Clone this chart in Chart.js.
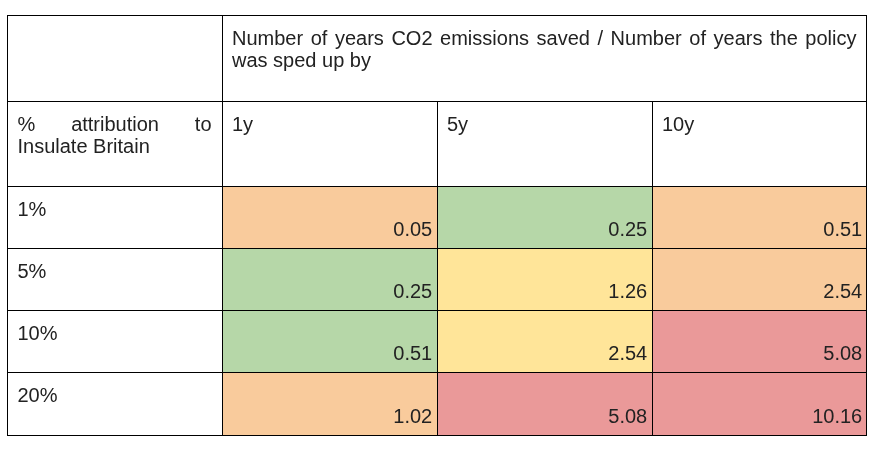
<!DOCTYPE html>
<html>
<head>
<meta charset="utf-8">
<script src="https://cdn.jsdelivr.net/npm/chart.js@4.4.1/dist/chart.umd.min.js"></script>
<style>
  html, body { margin: 0; padding: 0; background: #ffffff; }
  canvas { display: block; }
</style>
</head>
<body>
<canvas id="table" width="885" height="462"></canvas>
<script>
// ---------- data ----------
const headerTitle = 'Number of years CO2 emissions saved / Number of years the policy was sped up by';
const rowHeaderTitle = '% attribution to Insulate Britain';
const speedUpLabels = ['1y', '5y', '10y'];
const attributionLabels = ['1%', '5%', '10%', '20%'];
const saved1y = [0.05, 0.25, 0.51, 1.02];
const saved5y = [0.25, 1.26, 2.54, 5.08];
const saved10y = [0.51, 2.54, 5.08, 10.16];
const valueColumns = [saved1y, saved5y, saved10y];

// ---------- styles / layout ----------
const ORANGE = '#f9cb9c', GREEN = '#b6d7a8', YELLOW = '#ffe599', RED = '#ea9999', WHITE = '#ffffff';
const cellColors = [
  [ORANGE, GREEN, ORANGE],
  [GREEN, YELLOW, ORANGE],
  [GREEN, YELLOW, RED],
  [ORANGE, RED, RED]
];
// relative row heights (2 header rows + 4 data rows; last one also holds the bottom rule)
const rowUnits = [86 / 62, 85 / 62, 1, 1, 1, 64 / 62];
const FONT = '20px "Liberation Sans", Arial, sans-serif';
const TEXT_COLOR = '#222222';

const columnKeys = ['label'].concat(speedUpLabels);
const rowBounds = [0];
rowUnits.forEach(u => rowBounds.push(rowBounds[rowBounds.length - 1] + u));
const nRows = rowUnits.length;
const nCols = columnKeys.length;

function rowFill(r, c) {
  if (r < 2 || c === 0) return WHITE;
  return cellColors[r - 2][c - 1];
}

const datasets = [];
for (let r = 0; r < nRows; r++) {
  datasets.push({
    label: 'row' + r,
    data: columnKeys.map(() => [rowBounds[r], rowBounds[r + 1]]),
    backgroundColor: columnKeys.map((k, c) => rowFill(r, c)),
    borderColor: '#000000',
    borderWidth: (ctx) => {
      const rr = ctx.datasetIndex, cc = ctx.dataIndex;
      return {
        left: (rr === 0 && cc >= 2) ? 0 : 1,
        top: 1,
        right: cc === nCols - 1 ? 1 : 0,
        bottom: rr === nRows - 1 ? 1 : 0
      };
    },
    borderSkipped: false,
    inflateAmount: 0,
    grouped: false,
    barPercentage: 1,
    categoryPercentage: 1
  });
}

function cellBox(chart, r, c) {
  const el = chart.getDatasetMeta(r).data[c];
  const p = el.getProps(['x', 'y', 'base', 'width'], true);
  return {
    left: p.x - p.width / 2,
    right: p.x + p.width / 2,
    top: Math.min(p.y, p.base),
    bottom: Math.max(p.y, p.base)
  };
}

function wrapWords(ctx, text, maxWidth) {
  const words = text.split(' ');
  const lines = [];
  let cur = [];
  words.forEach(w => {
    const trial = cur.concat([w]).join(' ');
    if (cur.length && ctx.measureText(trial).width > maxWidth) {
      lines.push(cur);
      cur = [w];
    } else {
      cur.push(w);
    }
  });
  if (cur.length) lines.push(cur);
  return lines;
}

function drawJustified(ctx, text, x, y, maxWidth, lineHeight) {
  const lines = wrapWords(ctx, text, maxWidth);
  lines.forEach((words, i) => {
    const ly = y + i * lineHeight;
    if (i === lines.length - 1 || words.length === 1) {
      ctx.textAlign = 'left';
      ctx.fillText(words.join(' '), x, ly);
      return;
    }
    const widths = words.map(w => ctx.measureText(w).width);
    const total = widths.reduce((a, b) => a + b, 0);
    const gap = (maxWidth - total) / (words.length - 1);
    let cx = x;
    ctx.textAlign = 'left';
    words.forEach((w, j) => {
      ctx.fillText(w, cx, ly);
      cx += widths[j] + gap;
    });
  });
}

const PAD_L = 10, PAD_R = 10.5, TOP_BASE = 29.7, BOTTOM_BASE = 12, VAL_PAD = 4.8, LINE_H = 22.3;

const cellTextPlugin = {
  id: 'cellText',
  afterDatasetsDraw(chart) {
    const ctx = chart.ctx;
    ctx.save();
    ctx.font = FONT;
    ctx.fillStyle = TEXT_COLOR;
    ctx.textBaseline = 'alphabetic';

    // merged header cell spanning the value columns
    const hL = cellBox(chart, 0, 1), hR = cellBox(chart, 0, nCols - 1);
    drawJustified(ctx, headerTitle, hL.left + PAD_L, hL.top + TOP_BASE,
      hR.right - PAD_R - (hL.left + PAD_L), LINE_H);

    // row header title
    const rh = cellBox(chart, 1, 0);
    drawJustified(ctx, rowHeaderTitle, rh.left + PAD_L + 0.5, rh.top + TOP_BASE,
      rh.right - PAD_R - (rh.left + PAD_L + 0.5), LINE_H);

    // column labels
    speedUpLabels.forEach((lab, i) => {
      const b = cellBox(chart, 1, i + 1);
      ctx.textAlign = 'left';
      ctx.fillText(lab, b.left + PAD_L, b.top + TOP_BASE);
    });

    // row labels and values
    attributionLabels.forEach((lab, j) => {
      const b = cellBox(chart, j + 2, 0);
      ctx.textAlign = 'left';
      ctx.fillText(lab, b.left + PAD_L + 0.5, b.top + TOP_BASE);
      valueColumns.forEach((col, i) => {
        const vb = cellBox(chart, j + 2, i + 1);
        const bottom = (j + 2 === nRows - 1) ? vb.bottom - 1 : vb.bottom;
        ctx.textAlign = 'right';
        ctx.fillText(col[j].toFixed(2), vb.right - VAL_PAD, bottom - BOTTOM_BASE);
      });
    });
    ctx.restore();
  }
};

new Chart(document.getElementById('table'), {
  type: 'bar',
  data: { labels: columnKeys, datasets },
  options: {
    responsive: false,
    animation: false,
    events: [],
    layout: { padding: { left: 7, top: 15, right: 18, bottom: 26 } },
    plugins: { legend: { display: false }, tooltip: { enabled: false }, title: { display: false } },
    scales: {
      x: { type: 'category', offset: true, display: false },
      y: { type: 'linear', reverse: true, min: 0, max: rowBounds[rowBounds.length - 1], display: false }
    }
  },
  plugins: [cellTextPlugin]
});
</script>
</body>
</html>
